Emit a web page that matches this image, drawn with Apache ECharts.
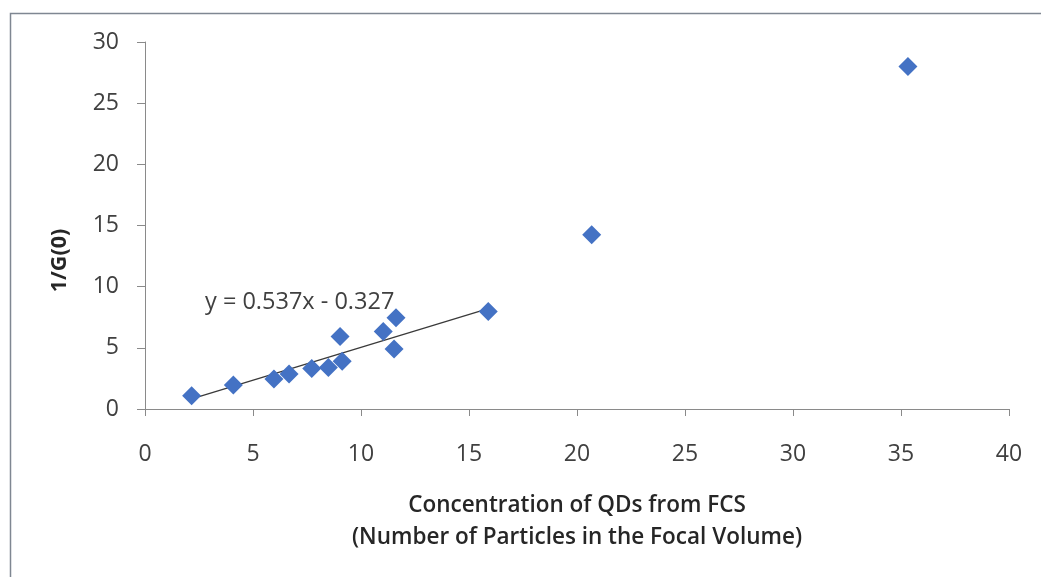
<!DOCTYPE html>
<html>
<head>
<meta charset="utf-8">
<script src="https://cdn.jsdelivr.net/npm/echarts@6/dist/echarts.min.js"></script>
<style>
  html, body { margin: 0; padding: 0; background: #ffffff; }
  #chart { width: 1041px; height: 577px; }
</style>
</head>
<body>
<div id="chart"></div>
<script>
// Concentration of QDs measured by FCS vs. inverse correlation amplitude
const concentration = [2.16, 4.09, 5.97, 6.67, 7.72, 8.49, 9.03, 9.13, 11.03, 11.53, 11.62, 15.89, 20.68, 35.32];
const inverseG0     = [1.09, 1.96, 2.45, 2.86, 3.32, 3.40, 5.92, 3.90, 6.33, 4.91, 7.45, 7.96, 14.24, 28.0];

// Linear fit over the low-concentration points
const fitSlope = 0.537;
const fitIntercept = -0.327;
const fitRange = [2.16, 15.89];
const fitLabel = 'y = 0.537x - 0.327';

const xTicks = { min: 0, max: 40, interval: 5 };
const yTicks = { min: 0, max: 30, interval: 5 };

const xTitle = 'Concentration of QDs from FCS\n(Number of Particles in the Focal Volume)';
const yTitle = '1/G(0)';

const points = concentration.map((x, i) => [x, inverseG0[i]]);
const fitLine = fitRange.map(x => [x, fitSlope * x + fitIntercept]);

const font = '"Open Sans", "Liberation Sans", sans-serif';
const chart = echarts.init(document.getElementById('chart'));
chart.setOption({
  animation: false,
  backgroundColor: '#ffffff',
  grid: { left: 145, right: 32, top: 42, bottom: 168, containLabel: false },
  xAxis: {
    type: 'value',
    min: xTicks.min, max: xTicks.max, interval: xTicks.interval,
    name: xTitle,
    nameLocation: 'middle',
    nameGap: 81,
    nameTextStyle: { fontFamily: font, fontSize: 22.5, fontWeight: 600, color: '#262626', lineHeight: 32 },
    axisLine: { lineStyle: { color: '#8a8a8a', width: 1 } },
    axisTick: { show: true, length: 7, lineStyle: { color: '#8a8a8a' } },
    axisLabel: { fontFamily: font, fontSize: 23, color: '#404040', margin: 34 },
    splitLine: { show: false }
  },
  yAxis: {
    type: 'value',
    min: yTicks.min, max: yTicks.max, interval: yTicks.interval,
    name: yTitle,
    nameLocation: 'middle',
    nameRotate: 90,
    nameGap: 74,
    nameTextStyle: { fontFamily: font, fontSize: 21.5, fontWeight: 'bold', color: '#262626', padding: [0, 70, 0, 0] },
    axisLine: { show: true, lineStyle: { color: '#8a8a8a', width: 1 } },
    axisTick: { show: true, length: 8, lineStyle: { color: '#8a8a8a' } },
    axisLabel: { fontFamily: font, fontSize: 23, color: '#404040', margin: 26 },
    splitLine: { show: false }
  },
  graphic: [
    {
      type: 'rect',
      left: 8, top: 11,
      shape: { width: 1100, height: 700 },
      style: { fill: 'none', stroke: '#7f8792', lineWidth: 1.5 },
      z: 0
    },
    {
      type: 'text',
      left: 205, top: 290,
      style: { text: fitLabel, fontFamily: font, fontSize: 23.5, fill: '#404040' },
      z: 10
    }
  ],
  series: [
    {
      type: 'line',
      data: fitLine,
      symbol: 'none',
      lineStyle: { color: '#3a3a3a', width: 1.3 },
      z: 3
    },
    {
      type: 'scatter',
      data: points,
      symbol: 'diamond',
      symbolSize: [19, 19],
      itemStyle: { color: '#4472c4', opacity: 1 },
      z: 4
    }
  ]
});
</script>
</body>
</html>
